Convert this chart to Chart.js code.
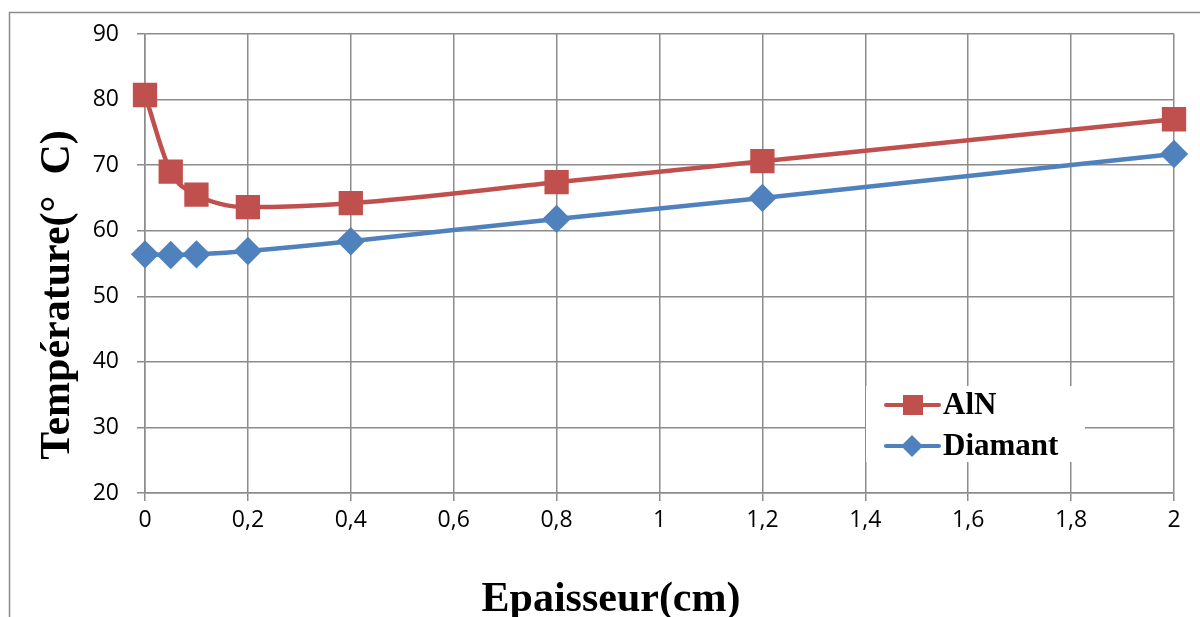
<!DOCTYPE html>
<html>
<head>
<meta charset="utf-8">
<script src="https://cdn.jsdelivr.net/npm/chart.js@4/dist/chart.umd.min.js"></script>
<style>
  html, body { margin: 0; padding: 0; background: #fff; }
  #wrap { width: 1200px; height: 617px; position: relative; }
</style>
</head>
<body>
<div id="wrap"><canvas id="tempChart" width="1200" height="617"></canvas></div>
<script>
// thickness values (cm)
const epaisseur = [0, 0.05, 0.1, 0.2, 0.4, 0.8, 1.2, 2];
const alnTemp = [80.7, 69.0, 65.5, 63.6, 64.2, 67.4, 70.6, 77.0];
const diamantTemp = [56.4, 56.3, 56.4, 56.9, 58.4, 61.8, 65.0, 71.7];
const yTicks = [20, 30, 40, 50, 60, 70, 80, 90];
const xTicks = [0, 0.2, 0.4, 0.6, 0.8, 1, 1.2, 1.4, 1.6, 1.8, 2];
const xTitle = 'Epaisseur(cm)';
const yTitle = 'Température(°  C)';

const RED = '#C0504D';
const BLUE = '#4F81BD';
const GRID = '#8c8c8c';
const serif = '"Liberation Serif", "Times New Roman", serif';
const sans = '"Open Sans", "Liberation Sans", sans-serif';

function toPoints(xs, ys) {
    return xs.map((x, i) => ({ x: x, y: ys[i] }));
}

// outer frame, axis titles and the legend box inside the plot
const framePlugin = {
    id: 'frame',
    beforeDraw(chart) {
        const c = chart.ctx;
        c.save();
        c.fillStyle = '#fff';
        c.fillRect(0, 0, chart.width, chart.height);
        c.strokeStyle = GRID;
        c.lineWidth = 1.5;
        c.strokeRect(9.5, 12.5, 1300, 700);

        c.fillStyle = '#000';
        c.font = 'bold 42px ' + serif;
        c.textAlign = 'center';
        c.textBaseline = 'middle';
        c.fillText(xTitle, 611, 600);
        c.translate(58, 295);
        c.rotate(-Math.PI / 2);
        c.fillText(yTitle, 0, 0);
        c.restore();
    },
    afterDatasetsDraw(chart) {
        const c = chart.ctx;
        c.save();
        c.fillStyle = '#fff';
        c.fillRect(866, 386, 219, 76);
        chart.data.datasets.forEach((ds, i) => {
            const y = 405 + i * 41;
            c.strokeStyle = ds.borderColor;
            c.lineWidth = 4;
            c.lineCap = 'round';
            c.beginPath();
            c.moveTo(886, y);
            c.lineTo(939, y);
            c.stroke();
            c.fillStyle = ds.backgroundColor;
            if (ds.pointStyle === 'rect') {
                c.fillRect(903, y - 10, 20, 20);
            } else {
                c.beginPath();
                c.moveTo(912, y - 11);
                c.lineTo(923, y);
                c.lineTo(912, y + 11);
                c.lineTo(901, y);
                c.closePath();
                c.fill();
            }
            c.fillStyle = '#000';
            c.font = 'bold 31px ' + serif;
            c.textBaseline = 'middle';
            c.fillText(ds.label, 943, y + 1);
        });
        c.restore();
    }
};

new Chart(document.getElementById('tempChart'), {
    type: 'line',
    data: {
        datasets: [
            {
                label: 'AlN',
                data: toPoints(epaisseur, alnTemp),
                borderColor: RED,
                backgroundColor: RED,
                borderWidth: 4.5,
                pointStyle: 'rect',
                pointRadius: 14,
                pointHoverRadius: 14,
                tension: 0.4,
                cubicInterpolationMode: 'monotone',
                clip: false
            },
            {
                label: 'Diamant',
                data: toPoints(epaisseur, diamantTemp),
                borderColor: BLUE,
                backgroundColor: BLUE,
                borderWidth: 4.5,
                pointStyle: 'rectRot',
                pointRadius: 11,
                pointHoverRadius: 11,
                tension: 0.3,
                clip: false
            }
        ]
    },
    options: {
        responsive: false,
        animation: false,
        layout: { padding: { left: 0, right: 26, top: 34, bottom: 0 } },
        plugins: {
            legend: { display: false },
            tooltip: { enabled: false }
        },
        scales: {
            x: {
                type: 'linear',
                min: 0,
                max: 2,
                afterBuildTicks: (scale) => { scale.ticks = xTicks.map(v => ({ value: v })); },
                afterFit: (scale) => { scale.height = 124; },
                ticks: {
                    padding: 6,
                    color: '#000',
                    font: { family: sans, size: 23 },
                    maxRotation: 0,
                    callback: (v) => String(v).replace('.', ',')
                },
                grid: { color: GRID, lineWidth: 1.5, tickLength: 8 },
                border: { color: GRID, width: 1.5 }
            },
            y: {
                min: 20,
                max: 90,
                afterBuildTicks: (scale) => { scale.ticks = yTicks.map(v => ({ value: v })); },
                afterFit: (scale) => { scale.width = 145; },
                ticks: {
                    padding: 18,
                    color: '#000',
                    font: { family: sans, size: 23 }
                },
                grid: { color: GRID, lineWidth: 1.5, tickLength: 8 },
                border: { color: GRID, width: 1.5 }
            }
        }
    },
    plugins: [framePlugin]
});
</script>
</body>
</html>
